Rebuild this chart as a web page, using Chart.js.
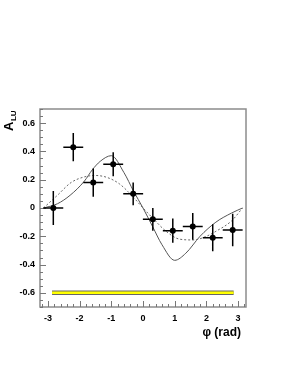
<!DOCTYPE html>
<html>
<head>
<meta charset="utf-8">
<script src="https://cdn.jsdelivr.net/npm/chart.js@4"></script>
<style>
  html, body { margin: 0; padding: 0; background: #fff; }
  #wrap { width: 295px; height: 382px; }
</style>
</head>
<body>
<div id="wrap"><canvas id="chart" width="295" height="382"></canvas></div>
<script>
// Data
const phiBins = [-2.83, -2.20, -1.57, -0.94, -0.31, 0.31, 0.94, 1.57, 2.20, 2.83];
const aluValues = [0.00, 0.43, 0.18, 0.31, 0.10, -0.08, -0.16, -0.13, -0.21, -0.155];
const aluErrors = [0.12, 0.10, 0.10, 0.085, 0.08, 0.08, 0.085, 0.095, 0.095, 0.115];
const binHalfWidth = 0.314;

const solidPhi = [-3.14, -2.7, -2.3, -1.85, -1.6, -1.35, -1.0, -0.6, -0.3, 0, 0.3, 0.6, 1.0, 1.35, 1.8, 2.3, 2.8, 3.14];
const solidAlu = [0, 0.03, 0.09, 0.19, 0.27, 0.33, 0.37, 0.25, 0.12, 0, -0.13, -0.26, -0.37, -0.32, -0.2, -0.1, -0.035, 0];

const dashedPhi = [-3.14, -2.7, -2.27, -1.85, -1.5, -1.12, -0.74, -0.32, 0, 0.3, 0.73, 1.15, 1.6, 2.0, 2.3, 2.8, 3.14];
const dashedAlu = [0, 0.09, 0.18, 0.22, 0.23, 0.215, 0.17, 0.08, 0, -0.07, -0.165, -0.22, -0.226, -0.2, -0.165, -0.09, 0];

const bandPhi = [-2.87, 2.86];
const bandAlu = [-0.6, -0.6];

const xTicks = [-3, -2, -1, 0, 1, 2, 3];
const yTicks = [-0.6, -0.4, -0.2, 0, 0.2, 0.4, 0.6];

const toXY = (xs, ys) => xs.map((x, i) => ({ x: x, y: ys[i] }));

// Frame, inside ticks, error bars and axis titles
const decorPlugin = {
    id: 'decor',
    beforeDatasetsDraw(chart) {
        const ctx = chart.ctx;
        const a = chart.chartArea;
        const xs = chart.scales.x, ys = chart.scales.y;
        ctx.save();
        ctx.strokeStyle = '#8c8c8c';
        ctx.lineWidth = 1.5;
        ctx.strokeRect(a.left, a.top, a.right - a.left, a.bottom - a.top);

        ctx.lineWidth = 1;
        ctx.strokeStyle = '#777';
        ctx.beginPath();
        // y ticks
        for (let v = -0.7; v <= 0.7001; v += 0.05) {
            const py = Math.round(ys.getPixelForValue(v)) + 0.5;
            const major = yTicks.some(t => Math.abs(t - v) < 1e-6);
            ctx.moveTo(a.left, py);
            ctx.lineTo(a.left + (major ? 6 : 3), py);
        }
        // x ticks
        for (let v = -3.2; v <= 3.2001; v += 0.2) {
            const px = Math.round(xs.getPixelForValue(v)) + 0.5;
            const major = xTicks.some(t => Math.abs(t - v) < 1e-6);
            ctx.moveTo(px, a.bottom);
            ctx.lineTo(px, a.bottom - (major ? 6 : 3));
        }
        ctx.stroke();
        ctx.restore();
    },
    afterDatasetsDraw(chart) {
        const ctx = chart.ctx;
        const xs = chart.scales.x, ys = chart.scales.y;
        ctx.save();
        ctx.strokeStyle = '#000';
        ctx.lineWidth = 1.5;
        ctx.beginPath();
        phiBins.forEach((phi, i) => {
            const px = xs.getPixelForValue(phi);
            const py = ys.getPixelForValue(aluValues[i]);
            ctx.moveTo(xs.getPixelForValue(phi - binHalfWidth), py);
            ctx.lineTo(xs.getPixelForValue(phi + binHalfWidth), py);
            ctx.moveTo(px, ys.getPixelForValue(aluValues[i] + aluErrors[i]));
            ctx.lineTo(px, ys.getPixelForValue(aluValues[i] - aluErrors[i]));
        });
        ctx.stroke();

        ctx.fillStyle = '#000';
        phiBins.forEach((phi, i) => {
            const px = xs.getPixelForValue(phi);
            const py = ys.getPixelForValue(aluValues[i]);
            ctx.beginPath();
            ctx.arc(px, py, 3, 0, Math.PI * 2);
            ctx.fill();
        });

        // y title A_LU, rotated
        ctx.save();
        ctx.translate(13, 131);
        ctx.rotate(-Math.PI / 2);
        ctx.font = 'bold 13px "Liberation Sans", Arial, sans-serif';
        ctx.textAlign = 'left';
        ctx.textBaseline = 'alphabetic';
        ctx.fillText('A', 0, 0);
        const w = ctx.measureText('A').width;
        ctx.font = 'bold 8px "Liberation Sans", Arial, sans-serif';
        ctx.fillText('LU', w + 0.5, 3);
        ctx.restore();

        // x title
        ctx.font = 'bold 12px "Liberation Sans", Arial, sans-serif';
        ctx.textAlign = 'right';
        ctx.fillText('\u03c6 (rad)', 241, 336);
        ctx.restore();
    }
};

const tickFont = { family: '"Liberation Sans", Arial, sans-serif', size: 9, weight: 'bold' };

new Chart(document.getElementById('chart'), {
    type: 'scatter',
    data: {
        datasets: [
            {
                label: 'band',
                data: toXY(bandPhi, bandAlu),
                showLine: true,
                borderColor: '#ffff00',
                borderWidth: 2.5,
                pointRadius: 0,
                order: 0
            },
            {
                label: 'band outline',
                data: toXY(bandPhi, bandAlu),
                showLine: true,
                borderColor: '#666',
                borderWidth: 4.5,
                pointRadius: 0,
                borderCapStyle: 'butt',
                order: 1
            },
            {
                label: 'dashed',
                data: toXY(dashedPhi, dashedAlu),
                showLine: true,
                borderColor: '#666',
                borderWidth: 1,
                borderDash: [2, 2],
                pointRadius: 0,
                cubicInterpolationMode: 'monotone',
                order: 0
            },
            {
                label: 'solid',
                data: toXY(solidPhi, solidAlu),
                showLine: true,
                borderColor: '#555',
                borderWidth: 1,
                pointRadius: 0,
                cubicInterpolationMode: 'monotone',
                order: 0
            }
        ]
    },
    options: {
        responsive: false,
        animation: false,
        devicePixelRatio: 1,
        layout: { padding: { left: 0, top: 109, right: 49, bottom: 0 } },
        plugins: { legend: { display: false }, tooltip: { enabled: false } },
        scales: {
            x: {
                type: 'linear',
                min: -3.25,
                max: 3.25,
                grid: { display: false, drawTicks: false },
                border: { display: false },
                afterFit: s => { s.height = 75; },
                afterBuildTicks: s => { s.ticks = xTicks.map(v => ({ value: v })); },
                ticks: {
                    color: '#000',
                    font: tickFont,
                    padding: 6,
                    maxRotation: 0,
                    callback: v => String(v)
                }
            },
            y: {
                type: 'linear',
                min: -0.7,
                max: 0.7,
                grid: { display: false, drawTicks: false },
                border: { display: false },
                afterFit: s => { s.width = 40; },
                afterBuildTicks: s => { s.ticks = yTicks.map(v => ({ value: v })); },
                ticks: {
                    color: '#000',
                    font: tickFont,
                    padding: 5,
                    callback: v => (Math.abs(v) < 1e-9 ? '0' : String(Math.round(v * 10) / 10))
                }
            }
        }
    },
    plugins: [decorPlugin]
});
</script>
</body>
</html>
